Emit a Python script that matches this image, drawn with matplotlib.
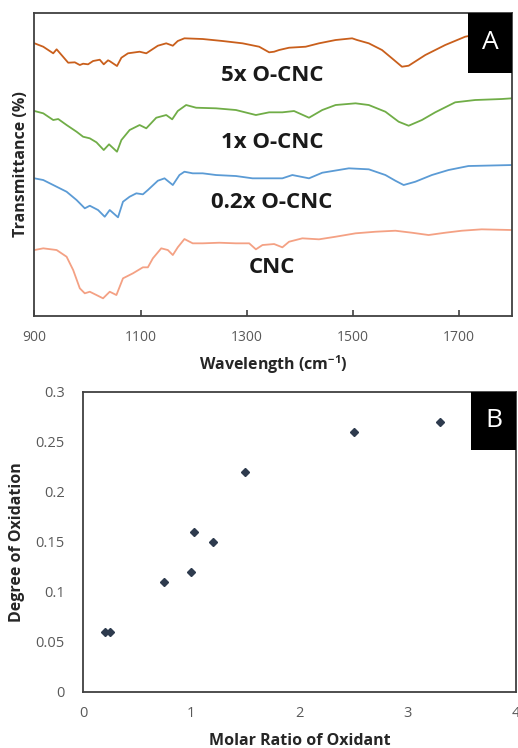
import matplotlib
matplotlib.use("Agg")
import matplotlib.pyplot as plt
from matplotlib.patches import Rectangle

plt.rcParams["font.family"] = ["Open Sans", "DejaVu Sans"]
plt.rcParams["mathtext.fontset"] = "custom"
plt.rcParams["mathtext.bf"] = "Open Sans:bold"
plt.rcParams["mathtext.rm"] = "Open Sans"

# ---- panel A: FTIR spectra (offset, arbitrary transmittance units) ----
wn_5x = [900, 916.5, 935.3, 941.7, 951, 963.5, 976, 985.4, 991.6, 1001, 1010.4, 1023,
         1030.5, 1038.6, 1042, 1055.5, 1063.8, 1076.2, 1098.1, 1110.7, 1132.5, 1148.3,
         1160.7, 1170, 1182.6, 1217, 1254.6, 1292.1, 1323.5, 1342.3, 1351.6, 1361,
         1379.8, 1411.1, 1436.2, 1467.5, 1498.7, 1508.1, 1530.1, 1555, 1573.8, 1592.6,
         1605.2, 1636.6, 1674.1, 1711.7, 1750, 1800]
tr_5x = [272.4, 269, 262.4, 266.4, 260.7, 253, 253.4, 250.7, 252, 251.4, 254.7, 256,
         251.4, 255.4, 254.5, 249.7, 258, 262.4, 264, 262.4, 270, 272.4,
         270, 274.7, 277.4, 276.7, 274.7, 272.4, 269, 263.4, 264, 265.7,
         268, 269, 272.4, 275.7, 277.4, 275.7, 272.4, 265.7, 257.4, 249,
         250, 260.7, 270.7, 279, 283, 286]

wn_1x = [900, 916.5, 935.3, 944.7, 960.5, 979.3, 991.6, 1004.2, 1016.8, 1030.5, 1040.5,
         1055.5, 1063.8, 1079.3, 1098.1, 1110.7, 1129.5, 1148.3, 1159.5, 1170, 1185.8,
         1204.6, 1242.2, 1279.7, 1317.3, 1342.3, 1367.2, 1389.2, 1417.4, 1442.4, 1467.5,
         1505.1, 1530.1, 1561.4, 1586.4, 1605.2, 1630.2, 1655.3, 1692.9, 1730.5, 1780.4, 1800]
tr_1x = [204.7, 202.4, 195.7, 196.7, 190.7, 184, 179, 177.4, 173.4, 165.7, 171.4,
         164, 175.7, 185.7, 190.7, 187.4, 198, 200.7, 196.4, 204.7, 210.7,
         208, 207.4, 205.7, 200.7, 203.4, 203.4, 204.7, 198, 205.7, 210.7,
         212.4, 210.7, 204, 194, 190, 195.7, 203.4, 213.4, 215.7, 216.7, 217.4]

wn_02x = [900, 916.5, 941.7, 960.5, 979.3, 994.8, 1004.2, 1019.8, 1032.4, 1041.8, 1057.4,
          1066.8, 1079.3, 1091.9, 1104.3, 1113.7, 1132.5, 1145.1, 1160.7, 1173.2, 1182.6,
          1198.2, 1217, 1242.2, 1279.7, 1310.9, 1351.6, 1367.2, 1386, 1417.4, 1442.4,
          1492.5, 1530.1, 1561.4, 1580.2, 1595.8, 1617.8, 1649, 1680.3, 1717.9, 1800]
tr_02x = [137.4, 135.7, 129, 124, 115.7, 107.4, 110, 105.7, 99, 105.7, 98.4,
          114, 119, 122.4, 121.4, 125.7, 135, 137.4, 130.7, 140.7, 144,
          142.4, 142.4, 140.7, 139.7, 137.4, 137.4, 137.4, 140.7, 137.4, 143,
          147.4, 146.4, 140.7, 135, 130.7, 134, 140.7, 145.7, 149.7, 150.7]

wn_cnc = [900, 916.5, 941.7, 960.5, 972.9, 985.4, 994.8, 1004.2, 1016.8, 1029.2, 1041.8,
          1054.4, 1066.8, 1085.5, 1104.3, 1113.7, 1123.1, 1138.9, 1151.3, 1160.7, 1170,
          1182.6, 1198.2, 1217, 1248.4, 1279.7, 1304.7, 1317.3, 1329.7, 1351.6, 1367.2,
          1379.8, 1404.8, 1436.2, 1467.5, 1505.1, 1542.7, 1580.2, 1611.4, 1642.8, 1674.1,
          1705.3, 1742.9, 1800]
tr_cnc = [65.7, 67.4, 65.7, 59, 45.7, 27.4, 22.4, 24, 20.7, 17.4, 24,
          20.7, 37.4, 42.4, 48.4, 48.4, 57.4, 67.4, 65.7, 60.7, 68.4,
          76.7, 72.4, 72.4, 73, 72.4, 72.4, 66.4, 70.7, 71.7, 68.4,
          74, 77.4, 76.4, 79, 82.4, 84, 85, 83, 80.7, 83,
          85, 86.4, 85.7]

spectra_labels = ["5x O-CNC", "1x O-CNC", "0.2x O-CNC", "CNC"]
label_y = [240, 173, 113, 48]
colors = ["#c95f1c", "#70ad47", "#5b9bd5", "#f4a184"]

# ---- panel B: degree of oxidation ----
molar_ratio = [0.2, 0.25, 0.75, 1.0, 1.03, 1.2, 1.5, 2.5, 3.3]
degree_ox = [0.06, 0.06, 0.11, 0.12, 0.16, 0.15, 0.22, 0.26, 0.27]

fig = plt.figure(figsize=(5.18, 7.48), dpi=100)
spine_c = "#404040"
tick_c = "#595959"

ax1 = fig.add_axes([0.0666, 0.5779, 0.9218, 0.4047])
series = [(wn_5x, tr_5x), (wn_1x, tr_1x), (wn_02x, tr_02x), (wn_cnc, tr_cnc)]
for (wn, tr), c in zip(series, colors):
    ax1.plot(wn, tr, color=c, lw=1.3)
for lab, y in zip(spectra_labels, label_y):
    ax1.text(1348, y, lab, ha="center", va="center", fontsize=16,
             fontweight="bold", color="#1a1a1a")
ax1.set_xlim(900, 1800)
ax1.set_ylim(0, 302.7)
ax1.set_xticks([900, 1100, 1300, 1500, 1700])
ax1.set_yticks([])
ax1.tick_params(axis="x", direction="in", length=4, width=1.2, color=spine_c,
                labelsize=10, labelcolor=tick_c, pad=10)
ax1.set_xlabel(r"Wavelength (cm$^{\mathbf{-1}}$)", fontsize=11.5, fontweight="bold",
               color="#262626", labelpad=6)
ax1.set_ylabel("Transmittance (%)", fontsize=11.5, fontweight="bold",
               color="#262626", labelpad=4)
for s in ax1.spines.values():
    s.set_color(spine_c)
    s.set_linewidth(1.3)
ax1.add_patch(Rectangle((0.908, 0.802), 0.092, 0.198, transform=ax1.transAxes,
                        facecolor="black", zorder=5))
ax1.text(0.954, 0.901, "A", transform=ax1.transAxes, ha="center", va="center",
         color="white", fontsize=19, zorder=6)

ax2 = fig.add_axes([0.1602, 0.0749, 0.8359, 0.4011])
ax2.plot(molar_ratio, degree_ox, ls="none", marker="D", markersize=4.3,
         color="#2e3b4e")
ax2.set_xlim(0, 4)
ax2.set_ylim(0, 0.3)
ax2.set_xticks([0, 1, 2, 3, 4])
ax2.set_xticklabels(["0", "1", "2", "3", "4"])
ax2.set_yticks([0, 0.05, 0.1, 0.15, 0.2, 0.25, 0.3])
ax2.set_yticklabels(["0", "0.05", "0.1", "0.15", "0.2", "0.25", "0.3"])
ax2.tick_params(axis="y", length=0, labelsize=10.5, labelcolor=tick_c, pad=13)
ax2.tick_params(axis="x", length=0, labelsize=10.5, labelcolor=tick_c, pad=10)
ax2.set_xlabel("Molar Ratio of Oxidant", fontsize=11.5, fontweight="bold",
               color="#262626", labelpad=9)
ax2.set_ylabel("Degree of Oxidation", fontsize=11.5, fontweight="bold",
               color="#262626", labelpad=8)
for s in ax2.spines.values():
    s.set_color(spine_c)
    s.set_linewidth(1.3)
ax2.add_patch(Rectangle((0.896, 0.807), 0.104, 0.193, transform=ax2.transAxes,
                        facecolor="black", zorder=5))
ax2.text(0.948, 0.9035, "B", transform=ax2.transAxes, ha="center", va="center",
         color="white", fontsize=19, zorder=6)

fig.savefig("out.png", dpi=100)
